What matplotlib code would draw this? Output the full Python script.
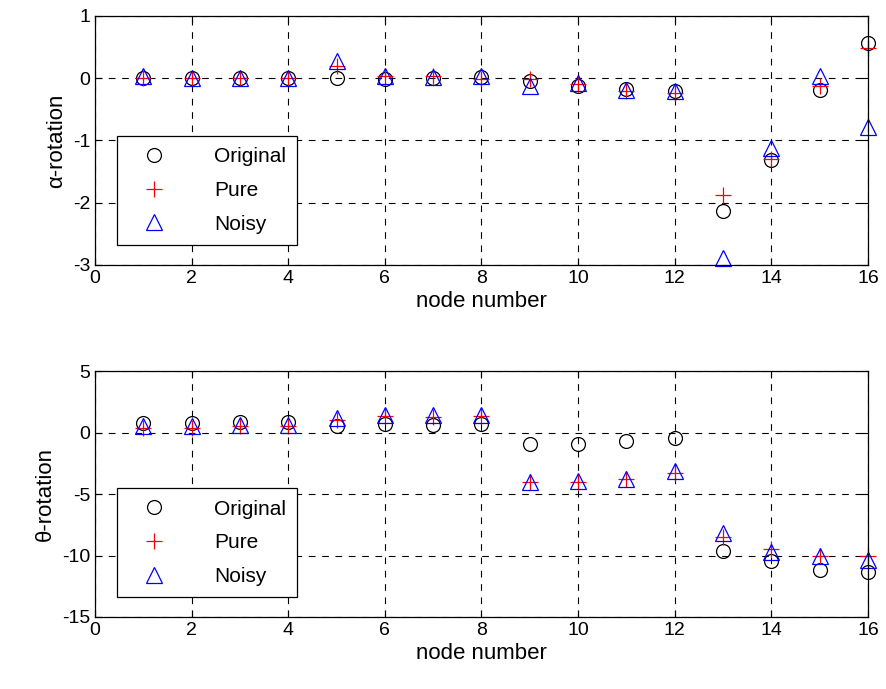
import matplotlib
matplotlib.use('Agg')
import matplotlib.pyplot as plt
import numpy as np

plt.rcParams['font.family'] = ['Liberation Sans', 'DejaVu Sans']
plt.rcParams['axes.unicode_minus'] = False

nodes = np.arange(1, 17)

# alpha-rotation
alpha_orig = [0, 0, 0, 0, 0, -0.02, 0, 0.02, -0.04, -0.12, -0.17, -0.2,
              -2.14, -1.31, -0.19, 0.57]
alpha_pure = [0, 0, 0, 0, 0.2, 0.04, 0.03, -0.02, -0.01, -0.1, -0.2, -0.24,
              -1.88, -1.29, -0.12, 0.48]
alpha_noisy = [0.03, 0.01, 0.01, 0.01, 0.27, 0.04, 0.02, 0.03, -0.13, -0.08, -0.19, -0.21,
               -2.88, -1.12, 0.03, -0.79]

# theta-rotation
theta_orig = [0.75, 0.75, 0.88, 0.88, 0.56, 0.67, 0.6, 0.67, -0.9, -0.9, -0.72, -0.45,
              -9.6, -10.48, -11.15, -11.34]
theta_pure = [0.35, 0.4, 0.56, 0.56, 1.0, 1.36, 1.28, 1.36, -4.06, -4.06, -3.8, -3.26,
              -8.48, -9.5, -10.08, -10.08]
theta_noisy = [0.56, 0.56, 0.6, 0.6, 1.2, 1.42, 1.42, 1.42, -4.06, -3.93, -3.8, -3.13,
               -8.2, -9.68, -10.08, -10.35]

fig = plt.figure(figsize=(8.87, 6.89), dpi=100)
ax1 = fig.add_axes([0.107, 0.6154, 0.8716, 0.3614])
ax2 = fig.add_axes([0.107, 0.1045, 0.8716, 0.357])


def draw(ax, orig, pure, noisy, ylim, yticks, ylabel):
    ax.plot(nodes, orig, 'o', mfc='none', mec='k', ms=10, mew=0.9, label='Original', clip_on=False)
    ax.plot(nodes, pure, '+', color='r', ms=12, mew=0.9, label='Pure', clip_on=False)
    ax.plot(nodes, noisy, '^', mfc='none', mec='b', ms=11, mew=0.9, label='Noisy', clip_on=False)
    ax.set_xlim(0, 16)
    ax.set_ylim(*ylim)
    ax.set_xticks(np.arange(0, 17, 2))
    ax.set_yticks(yticks)
    ax.grid(True, color='k', linestyle=(0, (6, 6)), linewidth=0.8)
    ax.tick_params(direction='in', labelsize=14, length=5, top=True, right=True)
    ax.set_xlabel('node number', fontsize=16, labelpad=3)
    ax.set_ylabel(ylabel, fontsize=16)
    for s in ax.spines.values():
        s.set_linewidth(0.9)
    leg = ax.legend(loc='lower left', bbox_to_anchor=(0.0285, 0.08), borderaxespad=0,
                    fontsize=15, fancybox=False, framealpha=1, edgecolor='k',
                    handletextpad=1.6, handlelength=2.5, labelspacing=0.7,
                    borderpad=0.55)
    leg.get_frame().set_linewidth(0.9)


draw(ax1, alpha_orig, alpha_pure, alpha_noisy, (-3, 1), np.arange(-3, 2, 1), 'α-rotation')
draw(ax2, theta_orig, theta_pure, theta_noisy, (-15, 5), np.arange(-15, 6, 5), 'θ-rotation')

fig.savefig('out.png', dpi=100)
